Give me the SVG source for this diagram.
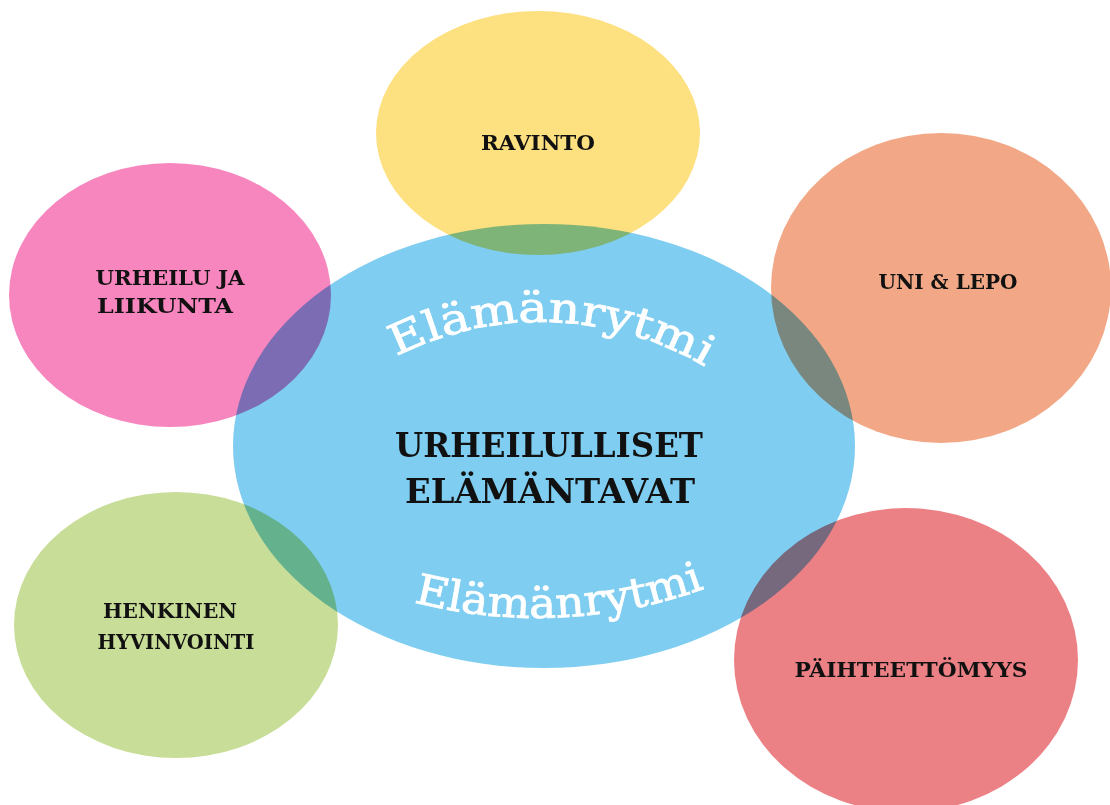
<svg xmlns="http://www.w3.org/2000/svg" width="1110" height="805" viewBox="0 0 1110 805">
  <style>
    .blob { mix-blend-mode: multiply; }
    .lbl { font-family: "DejaVu Serif", "Liberation Serif", serif; font-weight: bold; font-size: 21px; fill: #111; text-anchor: middle; }
    .main { font-family: "DejaVu Serif", "Liberation Serif", serif; font-weight: bold; font-size: 33px; fill: #111; text-anchor: middle; }
    .arc { font-family: "DejaVu Serif", "Liberation Serif", serif; font-size: 42px; fill: #ffffff; stroke: #ffffff; stroke-width: 0.8; text-anchor: middle; }
  </style>
  <defs>
    <path id="arcTop" d="M 218,645 A 323 323 0 0 1 864,645" fill="none"/>
    <path id="arcBottom" d="M 41,122 A 496 496 0 0 0 1033,122" fill="none"/>
  </defs>
  <rect x="0" y="0" width="1110" height="805" fill="#ffffff"/>
  <g id="shapes" style="isolation:isolate">
    <g id="node-center"><ellipse class="blob" cx="544" cy="446" rx="311" ry="222" fill="#7fcdf0"/></g>
    <g id="node-ravinto"><ellipse class="blob" cx="538" cy="133" rx="162" ry="122" fill="#fde07f"/></g>
    <g id="node-urheilu"><ellipse class="blob" cx="170" cy="295" rx="161" ry="132" fill="#f786bf"/></g>
    <g id="node-uni"><ellipse class="blob" cx="941" cy="288" rx="170" ry="155" fill="#f2a886"/></g>
    <g id="node-henkinen"><ellipse class="blob" cx="176" cy="625" rx="162" ry="133" fill="#c8dd97"/></g>
    <g id="node-paihteettomyys"><ellipse class="blob" cx="906" cy="660" rx="172" ry="152" fill="#ec8185"/></g>
  </g>
  <g id="connectors"></g>
  <g id="labels">
    <text class="lbl" x="538" y="150" textLength="114" lengthAdjust="spacingAndGlyphs">RAVINTO</text>
    <text class="lbl" x="170" y="285" textLength="149" lengthAdjust="spacingAndGlyphs">URHEILU JA</text>
    <text class="lbl" x="165" y="313" textLength="136" lengthAdjust="spacingAndGlyphs">LIIKUNTA</text>
    <text class="lbl" x="948" y="289" textLength="139" lengthAdjust="spacingAndGlyphs">UNI &amp; LEPO</text>
    <text class="lbl" x="170" y="618" textLength="134" lengthAdjust="spacingAndGlyphs">HENKINEN</text>
    <text class="lbl" x="176" y="649" textLength="157" lengthAdjust="spacingAndGlyphs">HYVINVOINTI</text>
    <text class="lbl" x="911" y="677" textLength="233" lengthAdjust="spacingAndGlyphs">PÄIHTEETTÖMYYS</text>
    <text class="main" x="549" y="457" textLength="308" lengthAdjust="spacingAndGlyphs">URHEILULLISET</text>
    <text class="main" x="550" y="503" textLength="290" lengthAdjust="spacingAndGlyphs">ELÄMÄNTAVAT</text>
    <text class="arc"><textPath href="#arcTop" startOffset="518" textLength="322" lengthAdjust="spacingAndGlyphs">Elämänrytmi</textPath></text>
    <text class="arc"><textPath href="#arcBottom" startOffset="802" textLength="296" lengthAdjust="spacingAndGlyphs">Elämänrytmi</textPath></text>
  </g>
</svg>
